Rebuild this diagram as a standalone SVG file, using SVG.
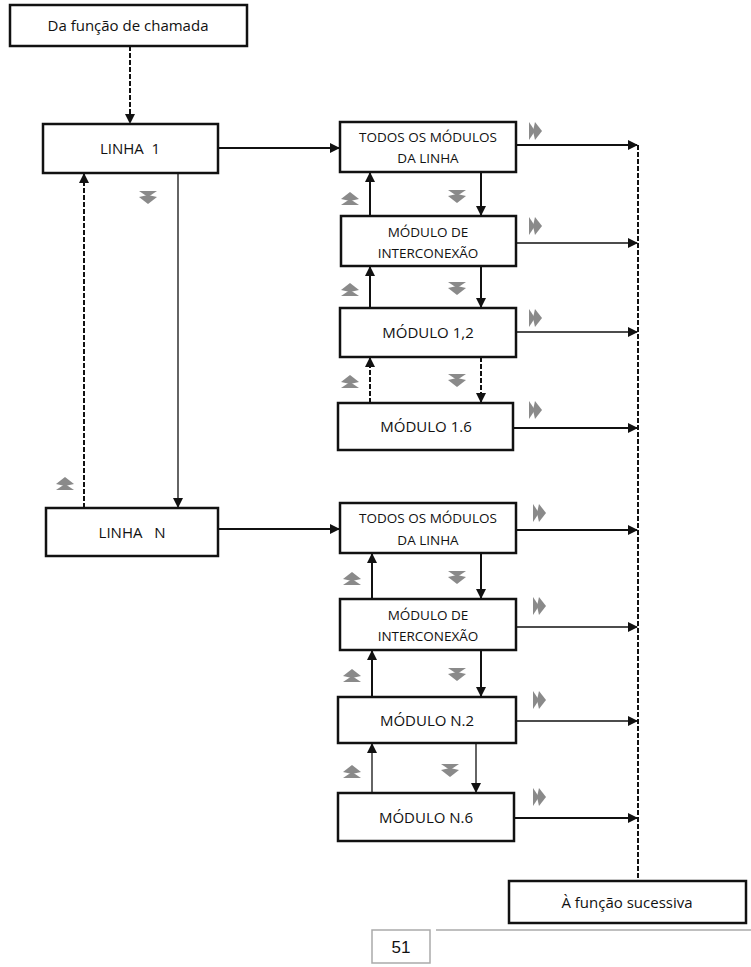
<svg xmlns="http://www.w3.org/2000/svg" width="751" height="967" viewBox="0 0 751 967">
<style>
.b{fill:#fff;stroke:#111;stroke-width:2.5}
.t{font-family:"Open Sans","Noto Sans",sans-serif;font-size:15px;fill:#111;text-anchor:middle}
.s{font-size:13.5px}
.l{stroke:#111;stroke-width:2;fill:none}
.n{stroke:#111;stroke-width:1.3;fill:none}
.d{stroke-dasharray:5 2}
</style>
<defs>
<marker id="a" markerWidth="10" markerHeight="10" refX="9" refY="5" orient="auto" markerUnits="userSpaceOnUse"><path d="M0,0L10,5L0,10z" fill="#111"/></marker>
<g id="cd" fill="#8a8a8a"><path d="M-9,-7L9,-7L0,-1z"/><path d="M-9,-1L0,-3L9,-1L0,6z"/></g>
<g id="cu" fill="#8a8a8a"><path d="M-9,7L9,7L0,1z"/><path d="M-9,1L0,3L9,1L0,-6z"/></g>
<g id="cr" fill="#8a8a8a"><path d="M-7,-9L-7,9L-1,0z"/><path d="M-1,-9L-3,0L-1,9L6,0z"/></g>
</defs>
<g id="connectors">
<line class="l d" x1="130" y1="46" x2="130" y2="123" marker-end="url(#a)"/>
<line class="l" x1="218" y1="148" x2="339" y2="148" marker-end="url(#a)"/>
<line class="n" x1="178" y1="173" x2="178" y2="507" marker-end="url(#a)"/>
<line class="l d" x1="84" y1="508" x2="84" y2="174" marker-end="url(#a)"/>
<line class="l" x1="218" y1="529" x2="339" y2="529" marker-end="url(#a)"/>
<line class="l d" x1="638" y1="145" x2="638" y2="881"/>
<line class="l" x1="516" y1="145" x2="637" y2="145" marker-end="url(#a)"/>
<line class="n" x1="516" y1="243" x2="637" y2="243" marker-end="url(#a)"/>
<line class="n" x1="516" y1="332" x2="637" y2="332" marker-end="url(#a)"/>
<line class="l" x1="513" y1="428" x2="637" y2="428" marker-end="url(#a)"/>
<line class="l" x1="370" y1="216" x2="370" y2="173" marker-end="url(#a)"/>
<line class="l" x1="370" y1="308" x2="370" y2="267" marker-end="url(#a)"/>
<line class="l d" x1="370" y1="403" x2="370" y2="358" marker-end="url(#a)"/>
<line class="l" x1="481" y1="172" x2="481" y2="215" marker-end="url(#a)"/>
<line class="l" x1="481" y1="266" x2="481" y2="307" marker-end="url(#a)"/>
<line class="l d" x1="481" y1="357" x2="481" y2="402" marker-end="url(#a)"/>
<line class="l" x1="516" y1="530" x2="637" y2="530" marker-end="url(#a)"/>
<line class="n" x1="516" y1="627" x2="637" y2="627" marker-end="url(#a)"/>
<line class="n" x1="516" y1="721" x2="637" y2="721" marker-end="url(#a)"/>
<line class="l" x1="514" y1="818" x2="637" y2="818" marker-end="url(#a)"/>
<line class="l" x1="372" y1="599" x2="372" y2="554" marker-end="url(#a)"/>
<line class="l" x1="372" y1="697" x2="372" y2="651" marker-end="url(#a)"/>
<line class="n" x1="372" y1="793" x2="372" y2="744" marker-end="url(#a)"/>
<line class="l" x1="481" y1="553" x2="481" y2="598" marker-end="url(#a)"/>
<line class="l" x1="481" y1="650" x2="481" y2="696" marker-end="url(#a)"/>
<line class="n" x1="476" y1="743" x2="476" y2="792" marker-end="url(#a)"/>
<line x1="436" y1="930" x2="751" y2="930" stroke="#aaa" stroke-width="1.5"/>
</g>
<g id="chevrons">
<use href="#cd" x="148" y="198"/><use href="#cu" x="65" y="483"/>
<use href="#cu" x="350" y="198"/><use href="#cu" x="350" y="289"/><use href="#cu" x="350" y="381"/>
<use href="#cd" x="457" y="197"/><use href="#cd" x="457" y="289"/><use href="#cd" x="457" y="381"/>
<use href="#cr" x="536" y="131"/><use href="#cr" x="536" y="226"/><use href="#cr" x="536" y="318"/><use href="#cr" x="536" y="410"/>
<use href="#cu" x="352" y="578"/><use href="#cu" x="352" y="675"/><use href="#cu" x="352" y="771"/>
<use href="#cd" x="457" y="578"/><use href="#cd" x="457" y="675"/><use href="#cd" x="450" y="771"/>
<use href="#cr" x="540" y="513"/><use href="#cr" x="540" y="606"/><use href="#cr" x="540" y="700"/><use href="#cr" x="540" y="797"/>
</g>
<g id="start"><rect class="b" x="10" y="5" width="237" height="41"/><text class="t" x="128" y="31">Da função de chamada</text></g>
<g id="linha1"><rect class="b" x="43" y="124" width="175" height="49"/><text class="t" x="130" y="154" xml:space="preserve">LINHA  1</text></g>
<g id="linhaN"><rect class="b" x="46" y="508" width="172" height="48"/><text class="t" x="132" y="538" xml:space="preserve">LINHA   N</text></g>
<g id="todos1"><rect class="b" x="340" y="122" width="176" height="50"/><text class="t s" x="428" y="142">TODOS OS MÓDULOS</text><text class="t s" x="428" y="163">DA LINHA</text></g>
<g id="inter1"><rect class="b" x="341" y="216" width="175" height="50"/><text class="t s" x="428" y="237">MÓDULO DE</text><text class="t s" x="428" y="258">INTERCONEXÃO</text></g>
<g id="m12"><rect class="b" x="340" y="308" width="176" height="49"/><text class="t" x="428" y="338">MÓDULO 1,2</text></g>
<g id="m16"><rect class="b" x="338" y="403" width="175" height="47"/><text class="t" x="426" y="432">MÓDULO 1.6</text></g>
<g id="todos2"><rect class="b" x="340" y="503" width="176" height="50"/><text class="t s" x="428" y="523">TODOS OS MÓDULOS</text><text class="t s" x="428" y="545">DA LINHA</text></g>
<g id="inter2"><rect class="b" x="340" y="599" width="176" height="51"/><text class="t s" x="428" y="620">MÓDULO DE</text><text class="t s" x="428" y="641">INTERCONEXÃO</text></g>
<g id="mN2"><rect class="b" x="338" y="697" width="178" height="46"/><text class="t" x="427" y="726">MÓDULO N.2</text></g>
<g id="mN6"><rect class="b" x="338" y="793" width="176" height="48"/><text class="t" x="426" y="823">MÓDULO N.6</text></g>
<g id="end"><rect class="b" x="509" y="881" width="237" height="42"/><text class="t" x="627" y="908">À função sucessiva</text></g>
<g id="page"><rect x="372" y="930" width="58" height="33" fill="#fff" stroke="#aaa" stroke-width="1.5"/><text x="401" y="953" font-family="Liberation Sans,Arial,sans-serif" font-size="17" text-anchor="middle" fill="#111">51</text></g>
</svg>
